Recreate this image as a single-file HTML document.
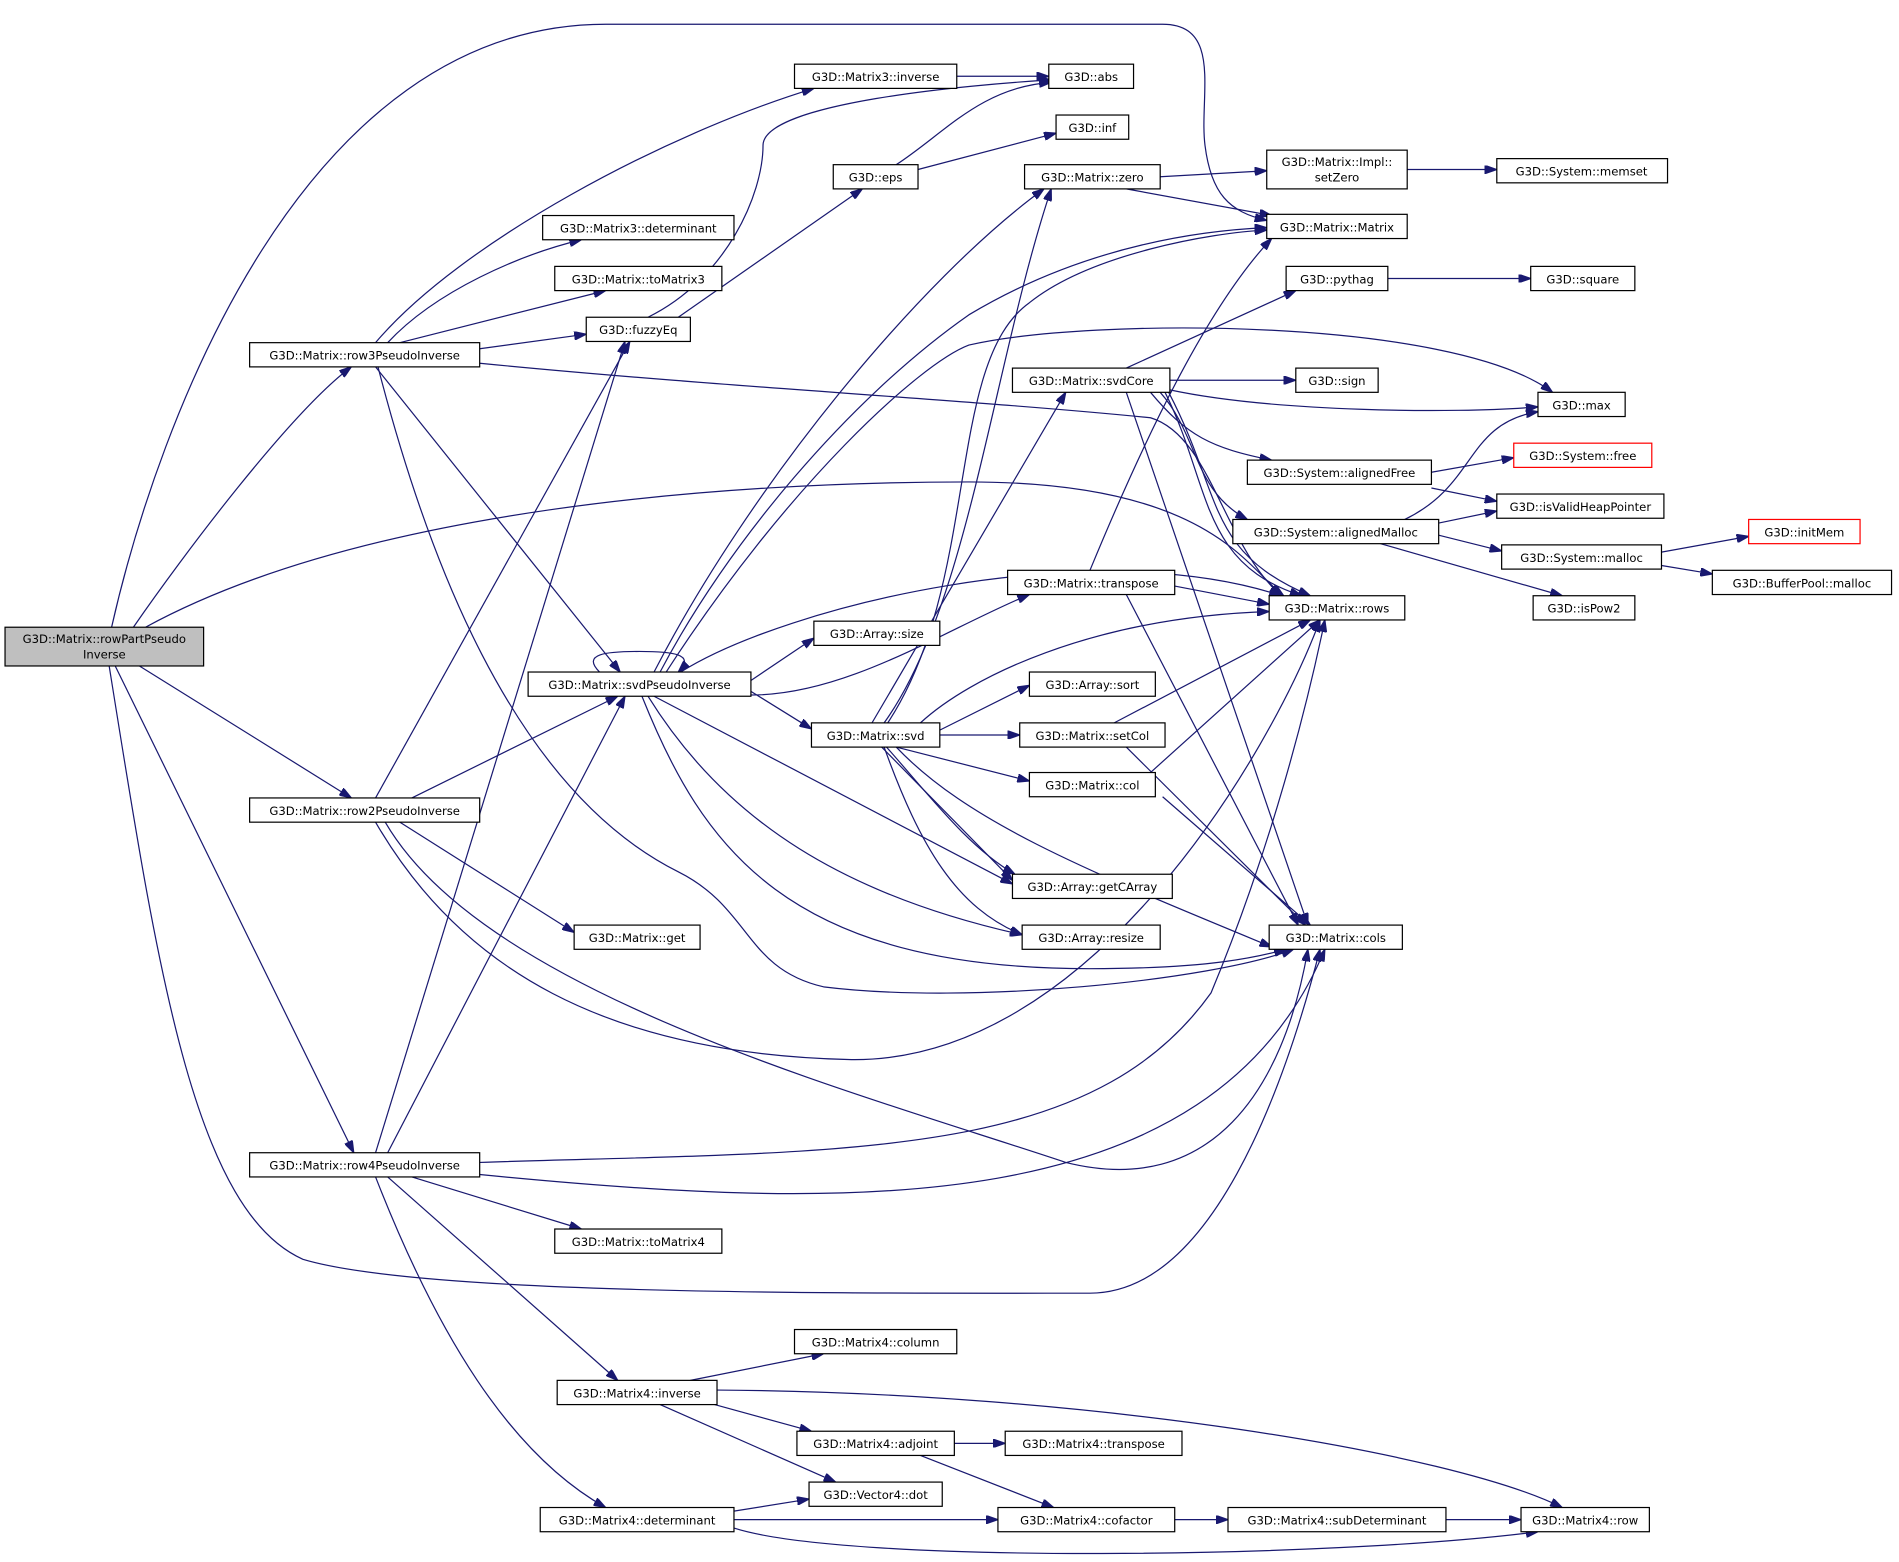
<!DOCTYPE html>
<html><head><meta charset="utf-8"><style>
html,body{margin:0;padding:0;background:#fff;}
svg{display:block;}
text{font-family:"DejaVu Sans","Liberation Sans",sans-serif;font-size:9.6px;fill:#000;}
.e{fill:none;stroke:#191970;stroke-width:1;}
.n{fill:#fff;stroke:#000;stroke-width:1;}
</style></head><body>
<svg width="1899" height="1562" viewBox="0 0 1568 1290" xmlns="http://www.w3.org/2000/svg">
<defs><marker id="a" markerWidth="10" markerHeight="7" refX="10" refY="3.5" orient="auto" markerUnits="userSpaceOnUse"><path d="M0,0 L10,3.5 L0,7 z" fill="#191970" stroke="#191970"/></marker></defs>
<g marker-end="url(#a)">
<path class="e" d="M92,518 C130,350 250,20 500,20 L960,20 C1010,20 990,80 995,120 C1000,160 1015,175 1046,182"/>
<path class="e" d="M110,518 C150,460 240,340 290,303"/>
<path class="e" d="M120,518 C300,420 600,398 800,398 C1000,398 1030,470 1060,492"/>
<path class="e" d="M115,550 L290,659"/>
<path class="e" d="M95,550 L292,952"/>
<path class="e" d="M90,550 C130,800 160,1000 250,1040 C350,1070 700,1068 900,1068 C1000,1068 1060,900 1090,784"/>
<path class="e" d="M310,283 C380,200 550,110 672,73"/>
<path class="e" d="M320,283 C360,240 430,210 480,198"/>
<path class="e" d="M330,283 L500,240"/>
<path class="e" d="M396,288 L484,276"/>
<path class="e" d="M396,300 C600,320 800,330 950,345 C1000,360 1010,450 1058,492"/>
<path class="e" d="M310,303 L512,555"/>
<path class="e" d="M312,303 C350,450 420,650 560,720 C620,750 615,800 680,815 C800,830 1000,810 1068,784"/>
<path class="e" d="M535,262 C600,230 630,160 630,120 C630,85 800,70 868,66"/>
<path class="e" d="M560,262 L712,156"/>
<path class="e" d="M740,136 C780,110 810,72 868,68"/>
<path class="e" d="M758,140 L872,110"/>
<path class="e" d="M790,63 L866,63"/>
<path class="e" d="M958,146 L1046,141"/>
<path class="e" d="M930,156 L1050,178"/>
<path class="e" d="M1162,140 L1236,140"/>
<path class="e" d="M1146,230 L1264,230"/>
<path class="e" d="M930,304 L1070,240"/>
<path class="e" d="M966,314 L1070,314"/>
<path class="e" d="M966,322 C1050,340 1200,342 1270,336"/>
<path class="e" d="M950,324 C980,360 1000,370 1050,380"/>
<path class="e" d="M958,324 C990,360 985,405 1030,429"/>
<path class="e" d="M962,324 C1000,400 990,465 1075,492"/>
<path class="e" d="M965,324 C1010,410 995,455 1082,492"/>
<path class="e" d="M930,324 L1080,764"/>
<path class="e" d="M1182,390 L1250,378"/>
<path class="e" d="M1182,403 L1236,414"/>
<path class="e" d="M1188,432 L1236,422"/>
<path class="e" d="M1160,429 C1220,400 1210,350 1270,340"/>
<path class="e" d="M1188,442 L1240,455"/>
<path class="e" d="M1140,449 L1290,492"/>
<path class="e" d="M1372,456 L1444,443"/>
<path class="e" d="M1372,467 L1414,474"/>
<path class="e" d="M495,555 C480,540 500,538 528,538 C555,538 575,540 560,555"/>
<path class="e" d="M545,555 C600,450 700,330 800,260 C900,200 1000,190 1046,188"/>
<path class="e" d="M540,555 C620,400 760,230 862,156"/>
<path class="e" d="M550,555 C650,400 760,300 800,285 C900,262 1200,262 1282,324"/>
<path class="e" d="M562,555 C650,500 900,440 1058,492"/>
<path class="e" d="M620,562 L672,527"/>
<path class="e" d="M620,571 L670,602"/>
<path class="e" d="M620,574 C700,574 780,520 850,491"/>
<path class="e" d="M540,575 L836,730"/>
<path class="e" d="M535,575 C600,680 700,740 844,772"/>
<path class="e" d="M530,575 C580,700 650,800 900,800 C1000,800 1040,790 1062,784"/>
<path class="e" d="M720,597 L880,324"/>
<path class="e" d="M730,597 C800,500 820,300 868,156"/>
<path class="e" d="M733,597 C810,480 780,300 850,250 C900,210 1000,192 1046,190"/>
<path class="e" d="M760,597 C800,560 900,510 1048,505"/>
<path class="e" d="M776,603 L850,566"/>
<path class="e" d="M776,607 L842,607"/>
<path class="e" d="M740,617 L850,645"/>
<path class="e" d="M728,617 L836,727"/>
<path class="e" d="M732,617 C770,660 800,700 838,722"/>
<path class="e" d="M730,617 C760,700 790,750 844,772"/>
<path class="e" d="M740,617 C800,680 900,720 1050,782"/>
<path class="e" d="M970,484 L1048,499"/>
<path class="e" d="M900,471 C950,350 1000,250 1050,197"/>
<path class="e" d="M930,491 L1072,764"/>
<path class="e" d="M920,597 L1082,512"/>
<path class="e" d="M930,617 L1078,764"/>
<path class="e" d="M950,638 L1090,512"/>
<path class="e" d="M960,658 L1082,764"/>
<path class="e" d="M310,659 L520,282"/>
<path class="e" d="M340,659 L510,575"/>
<path class="e" d="M330,679 L474,770"/>
<path class="e" d="M310,679 C380,800 500,870 700,875 C900,880 1050,620 1090,512"/>
<path class="e" d="M318,679 C400,820 700,900 880,960 C1000,990 1060,900 1080,784"/>
<path class="e" d="M310,952 L516,282"/>
<path class="e" d="M320,952 L516,575"/>
<path class="e" d="M396,960 C700,950 900,960 1000,820 C1050,700 1080,580 1094,512"/>
<path class="e" d="M396,970 C700,1000 1000,1010 1094,784"/>
<path class="e" d="M340,972 L480,1015"/>
<path class="e" d="M320,972 L510,1140"/>
<path class="e" d="M310,972 C360,1100 420,1200 500,1245"/>
<path class="e" d="M570,1140 L680,1118"/>
<path class="e" d="M590,1160 L670,1182"/>
<path class="e" d="M545,1160 L690,1224"/>
<path class="e" d="M592,1148 C900,1150 1200,1200 1290,1245"/>
<path class="e" d="M788,1192 L830,1192"/>
<path class="e" d="M760,1202 L870,1245"/>
<path class="e" d="M606,1248 L668,1238"/>
<path class="e" d="M606,1255 L824,1255"/>
<path class="e" d="M606,1262 C700,1292 1100,1287 1270,1265"/>
<path class="e" d="M970,1255 L1014,1255"/>
<path class="e" d="M1194,1255 L1256,1255"/>
</g>
<g>
<rect x="4" y="518" width="164" height="32" fill="#bfbfbf" stroke="#000"/>
<text x="86" y="531" text-anchor="middle">G3D::Matrix::rowPartPseudo</text>
<text x="86" y="544" text-anchor="middle">Inverse</text>
<rect class="n" x="1046" y="124" width="116" height="32"/>
<text x="1104" y="137" text-anchor="middle">G3D::Matrix::Impl::</text>
<text x="1104" y="150" text-anchor="middle">setZero</text>
</g>
<g text-anchor="middle">
<rect class="n" x="656" y="53" width="134" height="20"/><text x="723" y="67" text-anchor="middle">G3D::Matrix3::inverse</text>
<rect class="n" x="866" y="53" width="70" height="20"/><text x="901" y="67" text-anchor="middle">G3D::abs</text>
<rect class="n" x="872" y="95" width="60" height="20"/><text x="902" y="109" text-anchor="middle">G3D::inf</text>
<rect class="n" x="688" y="136" width="70" height="20"/><text x="723" y="150" text-anchor="middle">G3D::eps</text>
<rect class="n" x="846" y="136" width="112" height="20"/><text x="902" y="150" text-anchor="middle">G3D::Matrix::zero</text>
<rect class="n" x="1236" y="131" width="141" height="20"/><text x="1306" y="145" text-anchor="middle">G3D::System::memset</text>
<rect class="n" x="448" y="178" width="158" height="20"/><text x="527" y="192" text-anchor="middle">G3D::Matrix3::determinant</text>
<rect class="n" x="1046" y="177" width="116" height="20"/><text x="1104" y="191" text-anchor="middle">G3D::Matrix::Matrix</text>
<rect class="n" x="458" y="220" width="138" height="20"/><text x="527" y="234" text-anchor="middle">G3D::Matrix::toMatrix3</text>
<rect class="n" x="1062" y="220" width="84" height="20"/><text x="1104" y="234" text-anchor="middle">G3D::pythag</text>
<rect class="n" x="1264" y="220" width="86" height="20"/><text x="1307" y="234" text-anchor="middle">G3D::square</text>
<rect class="n" x="484" y="262" width="86" height="20"/><text x="527" y="276" text-anchor="middle">G3D::fuzzyEq</text>
<rect class="n" x="206" y="283" width="190" height="20"/><text x="301" y="297" text-anchor="middle">G3D::Matrix::row3PseudoInverse</text>
<rect class="n" x="836" y="304" width="130" height="20"/><text x="901" y="318" text-anchor="middle">G3D::Matrix::svdCore</text>
<rect class="n" x="1070" y="304" width="68" height="20"/><text x="1104" y="318" text-anchor="middle">G3D::sign</text>
<rect class="n" x="1270" y="324" width="72" height="20"/><text x="1306" y="338" text-anchor="middle">G3D::max</text>
<rect x="1250" y="366" width="114" height="20" fill="#fff" stroke="#ff0000"/><text x="1307" y="380" text-anchor="middle">G3D::System::free</text>
<rect class="n" x="1030" y="380" width="152" height="20"/><text x="1106" y="394" text-anchor="middle">G3D::System::alignedFree</text>
<rect class="n" x="1236" y="408" width="138" height="20"/><text x="1305" y="422" text-anchor="middle">G3D::isValidHeapPointer</text>
<rect class="n" x="1018" y="429" width="170" height="20"/><text x="1103" y="443" text-anchor="middle">G3D::System::alignedMalloc</text>
<rect x="1444" y="429" width="92" height="20" fill="#fff" stroke="#ff0000"/><text x="1490" y="443" text-anchor="middle">G3D::initMem</text>
<rect class="n" x="1240" y="450" width="132" height="20"/><text x="1306" y="464" text-anchor="middle">G3D::System::malloc</text>
<rect class="n" x="1414" y="471" width="148" height="20"/><text x="1488" y="485" text-anchor="middle">G3D::BufferPool::malloc</text>
<rect class="n" x="832" y="471" width="138" height="20"/><text x="901" y="485" text-anchor="middle">G3D::Matrix::transpose</text>
<rect class="n" x="1048" y="492" width="112" height="20"/><text x="1104" y="506" text-anchor="middle">G3D::Matrix::rows</text>
<rect class="n" x="1266" y="492" width="84" height="20"/><text x="1308" y="506" text-anchor="middle">G3D::isPow2</text>
<rect class="n" x="672" y="513" width="104" height="20"/><text x="724" y="527" text-anchor="middle">G3D::Array::size</text>
<rect class="n" x="436" y="555" width="184" height="20"/><text x="528" y="569" text-anchor="middle">G3D::Matrix::svdPseudoInverse</text>
<rect class="n" x="850" y="555" width="104" height="20"/><text x="902" y="569" text-anchor="middle">G3D::Array::sort</text>
<rect class="n" x="670" y="597" width="106" height="20"/><text x="723" y="611" text-anchor="middle">G3D::Matrix::svd</text>
<rect class="n" x="842" y="597" width="120" height="20"/><text x="902" y="611" text-anchor="middle">G3D::Matrix::setCol</text>
<rect class="n" x="850" y="638" width="104" height="20"/><text x="902" y="652" text-anchor="middle">G3D::Matrix::col</text>
<rect class="n" x="206" y="659" width="190" height="20"/><text x="301" y="673" text-anchor="middle">G3D::Matrix::row2PseudoInverse</text>
<rect class="n" x="836" y="722" width="132" height="20"/><text x="902" y="736" text-anchor="middle">G3D::Array::getCArray</text>
<rect class="n" x="844" y="764" width="114" height="20"/><text x="901" y="778" text-anchor="middle">G3D::Array::resize</text>
<rect class="n" x="1048" y="764" width="110" height="20"/><text x="1103" y="778" text-anchor="middle">G3D::Matrix::cols</text>
<rect class="n" x="474" y="764" width="104" height="20"/><text x="526" y="778" text-anchor="middle">G3D::Matrix::get</text>
<rect class="n" x="206" y="952" width="190" height="20"/><text x="301" y="966" text-anchor="middle">G3D::Matrix::row4PseudoInverse</text>
<rect class="n" x="458" y="1015" width="138" height="20"/><text x="527" y="1029" text-anchor="middle">G3D::Matrix::toMatrix4</text>
<rect class="n" x="656" y="1098" width="134" height="20"/><text x="723" y="1112" text-anchor="middle">G3D::Matrix4::column</text>
<rect class="n" x="460" y="1140" width="132" height="20"/><text x="526" y="1154" text-anchor="middle">G3D::Matrix4::inverse</text>
<rect class="n" x="658" y="1182" width="130" height="20"/><text x="723" y="1196" text-anchor="middle">G3D::Matrix4::adjoint</text>
<rect class="n" x="830" y="1182" width="146" height="20"/><text x="903" y="1196" text-anchor="middle">G3D::Matrix4::transpose</text>
<rect class="n" x="668" y="1224" width="110" height="20"/><text x="723" y="1238" text-anchor="middle">G3D::Vector4::dot</text>
<rect class="n" x="446" y="1245" width="160" height="20"/><text x="526" y="1259" text-anchor="middle">G3D::Matrix4::determinant</text>
<rect class="n" x="824" y="1245" width="146" height="20"/><text x="897" y="1259" text-anchor="middle">G3D::Matrix4::cofactor</text>
<rect class="n" x="1014" y="1245" width="180" height="20"/><text x="1104" y="1259" text-anchor="middle">G3D::Matrix4::subDeterminant</text>
<rect class="n" x="1256" y="1245" width="106" height="20"/><text x="1309" y="1259" text-anchor="middle">G3D::Matrix4::row</text>
</g>
</svg>
</body></html>
